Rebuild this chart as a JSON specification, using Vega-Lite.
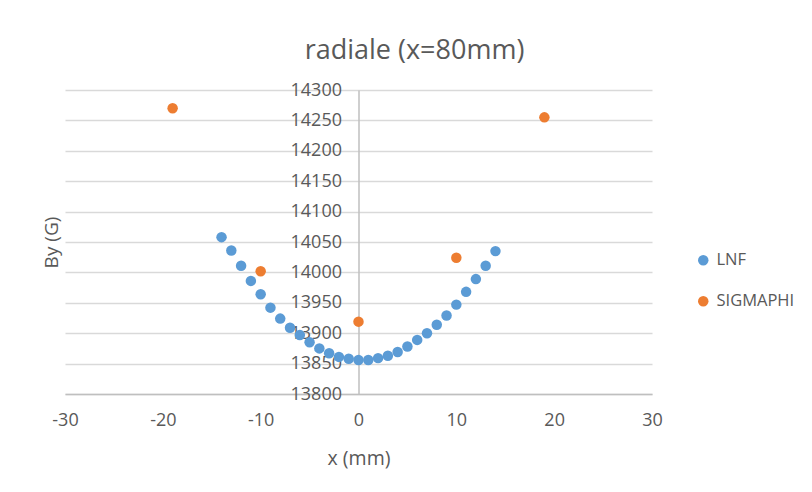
{
  "$schema": "https://vega.github.io/schema/vega-lite/v6.json",
  "autosize": "none",
  "width": 587,
  "height": 304,
  "padding": {"left": 65, "top": 90, "right": 160, "bottom": 98},
  "background": "white",
  "title": {
    "text": "radiale (x=80mm)",
    "anchor": "middle",
    "frame": "group",
    "dx": 56,
    "offset": 16,
    "font": "Open Sans",
    "fontSize": 27,
    "fontWeight": "normal",
    "color": "#595959"
  },
  "data": {
    "values": [
      {"x": -14, "By": 14058, "serie": "LNF"},
      {"x": -13, "By": 14036, "serie": "LNF"},
      {"x": -12, "By": 14011, "serie": "LNF"},
      {"x": -11, "By": 13986, "serie": "LNF"},
      {"x": -10, "By": 13964, "serie": "LNF"},
      {"x": -9, "By": 13942, "serie": "LNF"},
      {"x": -8, "By": 13924, "serie": "LNF"},
      {"x": -7, "By": 13909, "serie": "LNF"},
      {"x": -6, "By": 13897, "serie": "LNF"},
      {"x": -5, "By": 13885, "serie": "LNF"},
      {"x": -4, "By": 13875, "serie": "LNF"},
      {"x": -3, "By": 13867, "serie": "LNF"},
      {"x": -2, "By": 13861, "serie": "LNF"},
      {"x": -1, "By": 13858, "serie": "LNF"},
      {"x": 0, "By": 13856, "serie": "LNF"},
      {"x": 1, "By": 13856, "serie": "LNF"},
      {"x": 2, "By": 13859, "serie": "LNF"},
      {"x": 3, "By": 13863, "serie": "LNF"},
      {"x": 4, "By": 13869, "serie": "LNF"},
      {"x": 5, "By": 13878, "serie": "LNF"},
      {"x": 6, "By": 13889, "serie": "LNF"},
      {"x": 7, "By": 13900, "serie": "LNF"},
      {"x": 8, "By": 13914, "serie": "LNF"},
      {"x": 9, "By": 13929, "serie": "LNF"},
      {"x": 10, "By": 13947, "serie": "LNF"},
      {"x": 11, "By": 13968, "serie": "LNF"},
      {"x": 12, "By": 13989, "serie": "LNF"},
      {"x": 13, "By": 14011, "serie": "LNF"},
      {"x": 14, "By": 14035, "serie": "LNF"},
      {"x": -19, "By": 14270, "serie": "SIGMAPHI"},
      {"x": -10, "By": 14002, "serie": "SIGMAPHI"},
      {"x": 0, "By": 13919, "serie": "SIGMAPHI"},
      {"x": 10, "By": 14024, "serie": "SIGMAPHI"},
      {"x": 19, "By": 14255, "serie": "SIGMAPHI"}
    ]
  },
  "mark": {"type": "point", "filled": true, "opacity": 1, "size": 110},
  "encoding": {
    "x": {
      "field": "x",
      "type": "quantitative",
      "title": "x (mm)",
      "scale": {"domain": [-30, 30], "nice": false, "zero": false},
      "axis": {
        "values": [-30, -20, -10, 0, 10, 20, 30],
        "format": "d",
        "grid": false,
        "ticks": false,
        "domainColor": "#bfbfbf",
        "domainWidth": 1.5,
        "labelFont": "Open Sans",
        "labelFontSize": 18,
        "labelColor": "#595959",
        "labelPadding": 17,
        "labelFlush": false,
        "titleFont": "Open Sans",
        "titleFontSize": 19.5,
        "titleFontWeight": "normal",
        "titleColor": "#595959",
        "titlePadding": 20
      }
    },
    "y": {
      "field": "By",
      "type": "quantitative",
      "title": "By (G)",
      "scale": {"domain": [13800, 14300], "nice": false, "zero": false},
      "axis": {
        "values": [13800, 13850, 13900, 13950, 14000, 14050, 14100, 14150, 14200, 14250, 14300],
        "format": "d",
        "offset": -293.5,
        "grid": true,
        "gridColor": "#d9d9d9",
        "gridWidth": 1.5,
        "ticks": false,
        "domainColor": "#bfbfbf",
        "domainWidth": 1.5,
        "labelFont": "Open Sans",
        "labelFontSize": 18,
        "labelColor": "#595959",
        "labelPadding": 17,
        "labelFlush": false,
        "titleFont": "Open Sans",
        "titleFontSize": 19,
        "titleFontWeight": "normal",
        "titleColor": "#595959",
        "titleX": -307,
        "titleY": 152,
        "titleAlign": "center",
        "titleBaseline": "middle",
        "titleAngle": -90
      }
    },
    "color": {
      "field": "serie",
      "type": "nominal",
      "title": null,
      "scale": {"domain": ["LNF", "SIGMAPHI"], "range": ["#5B9BD5", "#ED7D31"]},
      "legend": {
        "orient": "none",
        "legendX": 630,
        "legendY": 162,
        "padding": 0,
        "symbolType": "circle",
        "symbolSize": 110,
        "symbolStrokeWidth": 0,
        "rowPadding": 24,
        "labelFont": "Open Sans",
        "labelFontSize": 16.5,
        "labelColor": "#595959",
        "labelOffset": 5
      }
    }
  },
  "config": {
    "view": {"stroke": null},
    "axis": {"gridCap": "butt"},
    "locale": {
      "number": {
        "decimal": ".",
        "thousands": "",
        "grouping": [3],
        "currency": ["", ""],
        "minus": "-"
      }
    }
  }
}
